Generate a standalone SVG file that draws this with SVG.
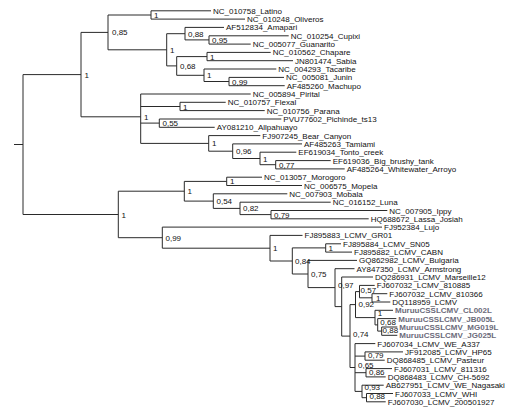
<svg xmlns="http://www.w3.org/2000/svg" width="522" height="413" viewBox="0 0 522 413">
<style>
text{font-family:"Liberation Sans",Arial,sans-serif;font-size:8px;fill:#111}
.s{font-size:8px}
.m{font-weight:bold;fill:#6b6b7a}
#connectors path{fill:none;stroke:#2a2a2a;stroke-width:1}
</style>
<rect width="522" height="413" fill="#fff"/>
<g id="connectors">
<path d="M14 144.5H23M23 74.6V214.5
M23 74.6H81M81 32.4V116.8
M81 32.4H108M108 15V49.8
M108 15H151M151 10.8V19.1M151 10.8H211M151 19.1H245
M108 49.8H166.7M166.7 33.7V65.9
M166.7 33.7H185M185 27.4V39.9M185 27.4H224
M185 39.9H209M209 35.8V44.1M209 35.8H288.7M209 44.1H250.7
M166.7 65.9H176.7M176.7 56.6V75.3
M176.7 56.6H207M207 52.4V60.7M207 52.4H270.7M207 60.7H293
M176.7 75.3H204M204 69V81.5M204 69H276.3
M204 81.5H229M229 77.4V85.7M229 77.4H284M229 85.7H284.7
M81 116.8H140.7M140.7 94V143.4M140.7 94H250.7
M140.7 106.5H180M180 102.3V110.6M180 102.3H225.7M180 110.6H264.7
M140.7 123.1H159.3M159.3 119V127.3M159.3 119H281.3M159.3 127.3H214.7
M140.7 143.4H208.7M208.7 135.6V151.2M208.7 135.6H260.3
M208.7 151.2H232.7M232.7 143.9V158.5M232.7 143.9H302
M232.7 158.5H260M260 152.2V164.7M260 152.2H296.3
M260 164.7H275.7M275.7 160.6V168.9M275.7 160.6H330.7M275.7 168.9H344.7
M23 214.5H118.3M118.3 191.2V237.7
M118.3 191.2H184.3M184.3 181.4V201.1
M184.3 181.4H226.7M226.7 177.2V185.5M226.7 177.2H262M226.7 185.5H302
M184.3 201.1H213.3M213.3 193.8V208.4M213.3 193.8H287.3
M213.3 208.4H240M240 202.2V214.6M240 202.2H330.7
M240 214.6H271M271 210.5V218.8M271 210.5H387.3M271 218.8H368.7
M118.3 237.7H162.3M162.3 227.1V248.2M162.3 227.1H382
M162.3 248.2H270M270 235.4V261M270 235.4H302.5
M270 261H292.3M292.3 247.9V274
M292.3 247.9H325.7M325.7 243.8V252.1M325.7 243.8H341M325.7 252.1H352
M292.3 274H308M308 260.4V287.6M308 260.4H357
M308 287.6H335M335 268.7V306.6M335 268.7H354.5
M335 306.6H341.7M341.7 277V336.1M341.7 277H373
M341.7 336.1H350M350 304.6V367.5
M350 304.6H355.5M355.5 291.6V317.6
M355.5 291.6H359.5M359.5 285.4V297.8M359.5 285.4H374.7
M359.5 297.8H372M372 293.7V302M372 293.7H387.3M372 302H390.3
M355.5 317.6H375M375 310.3V324.9M375 310.3H393
M375 324.9H377.7M377.7 318.6V331.1M377.7 318.6H396.3
M377.7 331.1H381.7M381.7 327V335.3M381.7 327H397.3M381.7 335.3H397.3
M350 367.5H355M355 343.6V391.4M355 343.6H375.3
M355 356.1H365M365 351.9V360.2M365 351.9H403M365 360.2H384.7
M355 372.7H366M366 368.6V376.9M366 368.6H392M366 376.9H385.7
M355 391.4H362M362 385.2V397.7M362 385.2H383.7
M362 397.7H366.5M366.5 393.5V401.8M366.5 393.5H393M366.5 401.8H385.7"/>
</g>
<g id="leaf-latino"><text x="213" y="13.8">NC_010758_Latino</text></g>
<g id="leaf-oliveros"><text x="247" y="22.1">NC_010248_Oliveros</text></g>
<g id="leaf-amapari"><text x="226" y="30.4">AF512834_Amapari</text></g>
<g id="leaf-cupixi"><text x="290.7" y="38.8">NC_010254_Cupixi</text></g>
<g id="leaf-guanarito"><text x="252.7" y="47.1">NC_005077_Guanarito</text></g>
<g id="leaf-chapare"><text x="272.7" y="55.4">NC_010562_Chapare</text></g>
<g id="leaf-sabia"><text x="295" y="63.7">JN801474_Sabia</text></g>
<g id="leaf-tacaribe"><text x="278.3" y="72">NC_004293_Tacaribe</text></g>
<g id="leaf-junin"><text x="286" y="80.4">NC_005081_Junin</text></g>
<g id="leaf-machupo"><text x="286.7" y="88.7">AF485260_Machupo</text></g>
<g id="leaf-pirital"><text x="252.7" y="97">NC_005894_Pirital</text></g>
<g id="leaf-flexal"><text x="227.7" y="105.3">NC_010757_Flexal</text></g>
<g id="leaf-parana"><text x="266.7" y="113.6">NC_010756_Parana</text></g>
<g id="leaf-pichinde"><text x="283.3" y="122">PVU77602_Pichinde_ts13</text></g>
<g id="leaf-allpahuayo"><text x="216.7" y="130.3">AY081210_Allpahuayo</text></g>
<g id="leaf-bearcanyon"><text x="262.3" y="138.6">FJ907245_Bear_Canyon</text></g>
<g id="leaf-tamiami"><text x="304" y="146.9">AF485263_Tamiami</text></g>
<g id="leaf-tonto"><text x="298.3" y="155.2">EF619034_Tonto_creek</text></g>
<g id="leaf-bigbrushy"><text x="332.7" y="163.6">EF619036_Big_brushy_tank</text></g>
<g id="leaf-whitewater"><text x="346.7" y="171.9">AF485264_Whitewater_Arroyo</text></g>
<g id="leaf-morogoro"><text x="264" y="180.2">NC_013057_Morogoro</text></g>
<g id="leaf-mopela"><text x="304" y="188.5">NC_006575_Mopela</text></g>
<g id="leaf-mobala"><text x="289.3" y="196.8">NC_007903_Mobala</text></g>
<g id="leaf-luna"><text x="332.7" y="205.2">NC_016152_Luna</text></g>
<g id="leaf-ippy"><text x="389.3" y="213.5">NC_007905_Ippy</text></g>
<g id="leaf-lassa"><text x="370.7" y="221.8">HQ688672_Lassa_Josiah</text></g>
<g id="leaf-lujo"><text x="384" y="230.1">FJ952384_Lujo</text></g>
<g id="leaf-gr01"><text x="304.5" y="238.4">FJ895883_LCMV_GR01</text></g>
<g id="leaf-sn05"><text x="343" y="246.8">FJ895884_LCMV_SN05</text></g>
<g id="leaf-cabn"><text x="354" y="255.1">FJ895882_LCMV_CABN</text></g>
<g id="leaf-bulgaria"><text x="359" y="263.4">GQ862982_LCMV_Bulgaria</text></g>
<g id="leaf-armstrong"><text x="356.5" y="271.7">AY847350_LCMV_Armstrong</text></g>
<g id="leaf-marseille"><text x="375" y="280">DQ286931_LCMV_Marseille12</text></g>
<g id="leaf-810885"><text x="376.7" y="288.4">FJ607032_LCMV_810885</text></g>
<g id="leaf-810366"><text x="389.3" y="296.7">FJ607032_LCMV_810366</text></g>
<g id="leaf-dq118959"><text x="392.3" y="305">DQ118959_LCMV</text></g>
<g id="leaf-cl002l"><text class="m" x="395" y="313.3">MuruuCSSLCMV_CL002L</text></g>
<g id="leaf-jb005l"><text class="m" x="398.3" y="321.6">MuruuCSSLCMV_JB005L</text></g>
<g id="leaf-mg019l"><text class="m" x="399.3" y="330">MuruuCSSLCMV_MG019L</text></g>
<g id="leaf-jg025l"><text class="m" x="399.3" y="338.3">MuruuCSSLCMV_JG025L</text></g>
<g id="leaf-wea337"><text x="377.3" y="346.6">FJ607034_LCMV_WE_A337</text></g>
<g id="leaf-hp65"><text x="405" y="354.9">JF912085_LCMV_HP65</text></g>
<g id="leaf-pasteur"><text x="386.7" y="363.2">DQ868485_LCMV_Pasteur</text></g>
<g id="leaf-811316"><text x="394" y="371.6">FJ607031_LCMV_811316</text></g>
<g id="leaf-ch5692"><text x="387.7" y="379.9">DQ868483_LCMV_CH-5692</text></g>
<g id="leaf-nagasaki"><text x="385.7" y="388.2">AB627951_LCMV_WE_Nagasaki</text></g>
<g id="leaf-whi"><text x="395" y="396.5">FJ607033_LCMV_WHI</text></g>
<g id="leaf-200501927"><text x="387.7" y="404.8">FJ607030_LCMV_200501927</text></g>
<g id="node-A"><text class="s" x="84.5" y="77.6">1</text></g>
<g id="node-A1"><text class="s" x="112" y="35.4">0,85</text></g>
<g id="node-A1a"><text class="s" x="154" y="18">1</text></g>
<g id="node-A1b"><text class="s" x="170" y="52.8">1</text></g>
<g id="node-A1b1"><text class="s" x="188" y="36.7">0,88</text></g>
<g id="node-N095"><text class="s" x="212" y="42.9">0,95</text></g>
<g id="node-A1b2"><text class="s" x="180" y="68.9">0,68</text></g>
<g id="node-N1"><text class="s" x="210" y="59.6">1</text></g>
<g id="node-N2"><text class="s" x="207" y="78.3">1</text></g>
<g id="node-N099"><text class="s" x="232" y="84.5">0,99</text></g>
<g id="node-A2"><text class="s" x="144" y="119.8">1</text></g>
<g id="node-NFlex"><text class="s" x="183" y="109.5">1</text></g>
<g id="node-N055"><text class="s" x="162.5" y="126.1">0,55</text></g>
<g id="node-NBear"><text class="s" x="212" y="146.4">1</text></g>
<g id="node-N096"><text class="s" x="236" y="154.2">0,96</text></g>
<g id="node-N1c"><text class="s" x="263" y="161.5">1</text></g>
<g id="node-N077"><text class="s" x="279" y="167.7">0,77</text></g>
<g id="node-B"><text class="s" x="121.5" y="217.5">1</text></g>
<g id="node-B1"><text class="s" x="187.5" y="194.2">1</text></g>
<g id="node-NMoro"><text class="s" x="230" y="184.4">1</text></g>
<g id="node-N054"><text class="s" x="216.5" y="204.1">0,54</text></g>
<g id="node-N082"><text class="s" x="243" y="211.4">0,82</text></g>
<g id="node-N079b"><text class="s" x="274" y="217.6">0,79</text></g>
<g id="node-B2"><text class="s" x="165.5" y="240.7">0,99</text></g>
<g id="node-NLCMV"><text class="s" x="273" y="251.2">1</text></g>
<g id="node-N084"><text class="s" x="295" y="264">0,84</text></g>
<g id="node-NSN"><text class="s" x="328.5" y="250.9">1</text></g>
<g id="node-N075"><text class="s" x="311" y="277">0,75</text></g>
<g id="node-N097"><text class="s" x="338" y="288.2">0,97</text></g>
<g id="node-N074"><text class="s" x="353" y="337.3">0,74</text></g>
<g id="node-N092"><text class="s" x="358.5" y="307.4">0,92</text></g>
<g id="node-N057"><text class="s" x="360.6" y="293.4">0,57</text></g>
<g id="node-N1x"><text class="s" x="376" y="301.4">1</text></g>
<g id="node-NMuruu"><text class="s" x="377.8" y="316">1</text></g>
<g id="node-N068"><text class="s" x="380.3" y="324.6">0,68</text></g>
<g id="node-N088m"><text class="s" x="382.6" y="333">0,88</text></g>
<g id="node-N065"><text class="s" x="358" y="368.3">0,65</text></g>
<g id="node-N079c"><text class="s" x="368" y="358.4">0,79</text></g>
<g id="node-N086"><text class="s" x="369" y="375">0,86</text></g>
<g id="node-N093"><text class="s" x="364.5" y="390.2">0,93</text></g>
<g id="node-N088b"><text class="s" x="369.5" y="398.6">0,88</text></g>
</svg>
